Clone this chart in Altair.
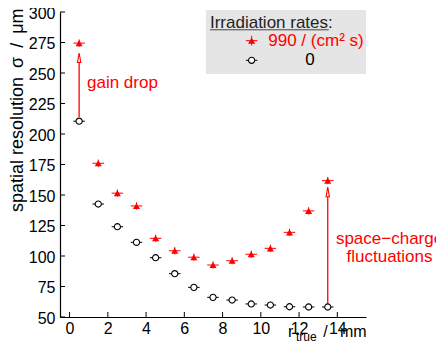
import altair as alt
import pandas as pd

# ---- data ----
r_true = [0.5, 1.5, 2.5, 3.5, 4.5, 5.5, 6.5, 7.5, 8.5, 9.5, 10.5, 11.5, 12.5, 13.5]
sigma_irr = [274.5, 176, 151.5, 141, 114.5, 104.3, 99, 92.6, 96.1, 101.4, 106.3, 119.4, 137, 161.8]
sigma_0 = [210.5, 142.6, 124, 111.2, 98.6, 85.5, 74.3, 66.1, 63.9, 60.7, 59.8, 58.4, 58.2, 58.2]
x_err = 0.3
y_err_irr = 3.0

x_ticks = [0, 2, 4, 6, 8, 10, 12, 14]
y_ticks = [50, 75, 100, 125, 150, 175, 200, 225, 250, 275, 300]
x_domain = [-0.5, 15.5]
y_domain = [50, 300]

legend_title = "Irradiation rates:"
legend_labels = ["990 / (cm² s)", "0"]
y_title = "spatial resolution\u2002σ\u2002/\u2002μm"

RED = "#ff0000"
FONT = "Liberation Sans"

df = pd.DataFrame({"x": r_true, "irr": sigma_irr, "zero": sigma_0})
df["xl"] = df["x"] - x_err
df["xr"] = df["x"] + x_err
df["irr_lo"] = df["irr"] - y_err_irr
df["irr_hi"] = df["irr"] + y_err_irr

xscale = alt.Scale(domain=x_domain, nice=False, zero=False)
yscale = alt.Scale(domain=y_domain, nice=False, zero=False)
xaxis = alt.Axis(values=x_ticks, ticks=False, grid=False, title=None,
                 labelFont=FONT, labelFontSize=16, labelColor="black",
                 labelPadding=3, domainColor="black", labelFlush=False)
yaxis = alt.Axis(values=y_ticks, ticks=False, grid=False, title=y_title,
                 labelFont=FONT, labelFontSize=16, labelColor="black",
                 labelPadding=5, labelOffset=1, domainColor="black", labelFlush=False,
                 titleFont=FONT, titleFontSize=18, titleFontWeight="normal",
                 titleColor="black", titleAngle=270, titleAlign="right",
                 titleBaseline="middle", titleX=-43, titleY=-4)


def X(f):
    return alt.X(f, type="quantitative", scale=xscale, axis=xaxis)


def Y(f):
    return alt.Y(f, type="quantitative", scale=yscale, axis=yaxis)


layers = []

# legend box
box = pd.DataFrame({"x": [7.13], "x2": [15.5], "y": [301.6], "y2": [249.2]})
layers.append(alt.Chart(box).mark_rect(color="#e5e5e5").encode(
    x=X("x"), x2="x2", y=Y("y"), y2="y2"))

# inward ticks
ytk = pd.DataFrame({"t": y_ticks})
xtk = pd.DataFrame({"t": x_ticks})
layers.append(alt.Chart(ytk).mark_rule(color="black", strokeWidth=1).encode(
    y=Y("t"), x=alt.value(0), x2=alt.value(5)))
layers.append(alt.Chart(xtk).mark_rule(color="black", strokeWidth=1).encode(
    x=X("t"), y=alt.value(305), y2=alt.value(300)))

# arrows
arr = pd.DataFrame({"x": [0.5, 13.5], "y0": [214, 61], "y1": [259, 149],
                    "yh": [262.5, 152.5]})
layers.append(alt.Chart(arr).mark_rule(color=RED, strokeWidth=1.3).encode(
    x=X("x"), y=Y("y0"), y2="y1"))
layers.append(alt.Chart(arr).mark_point(
    shape="M0,-1L0.35,1L-0.35,1Z", filled=True, fill="white", stroke=RED,
    strokeWidth=1.1, size=90, opacity=1).encode(x=X("x"), y=Y("yh")))

# zero-rate series
layers.append(alt.Chart(df).mark_rule(color="black", strokeWidth=1).encode(
    x=X("xl"), x2="xr", y=Y("zero")))
layers.append(alt.Chart(df).mark_point(
    shape="circle", filled=True, fill="white", stroke="black", strokeWidth=1.1,
    size=38, opacity=1).encode(x=X("x"), y=Y("zero")))

# irradiated series
layers.append(alt.Chart(df).mark_rule(color=RED, strokeWidth=1).encode(
    x=X("xl"), x2="xr", y=Y("irr")))
layers.append(alt.Chart(df).mark_rule(color=RED, strokeWidth=1).encode(
    x=X("x"), y=Y("irr_lo"), y2="irr_hi"))
layers.append(alt.Chart(df).mark_point(
    shape="triangle-up", filled=True, color=RED, size=50, opacity=1).encode(
    x=X("x"), y=Y("irr")))

# legend markers
lg = pd.DataFrame({"x": [9.52], "y_irr": [276.5], "y_zero": [260.4]})
lg["xl"] = lg["x"] - x_err
lg["xr"] = lg["x"] + x_err
lg["lo"] = lg["y_irr"] - 4.0
lg["hi"] = lg["y_irr"] + 4.0
layers.append(alt.Chart(lg).mark_rule(color=RED, strokeWidth=1).encode(
    x=X("xl"), x2="xr", y=Y("y_irr")))
layers.append(alt.Chart(lg).mark_rule(color=RED, strokeWidth=1).encode(
    x=X("x"), y=Y("lo"), y2="hi"))
layers.append(alt.Chart(lg).mark_point(
    shape="triangle-up", filled=True, color=RED, size=50, opacity=1).encode(
    x=X("x"), y=Y("y_irr")))
layers.append(alt.Chart(lg).mark_rule(color="black", strokeWidth=1).encode(
    x=X("xl"), x2="xr", y=Y("y_zero")))
layers.append(alt.Chart(lg).mark_point(
    shape="circle", filled=True, fill="white", stroke="black", strokeWidth=1.1,
    size=38, opacity=1).encode(x=X("x"), y=Y("y_zero")))

# legend texts
lt = pd.DataFrame({"x": [7.34], "y": [287.2], "t": [legend_title]})
layers.append(alt.Chart(lt).mark_text(
    align="left", baseline="alphabetic", font=FONT, fontSize=17, color="#222222").encode(
    x=X("x"), y=Y("y"), text="t:N"))
ul = pd.DataFrame({"x": [7.34], "x2": [13.55], "y": [285.4]})
layers.append(alt.Chart(ul).mark_rule(color="#444444", strokeWidth=1).encode(
    x=X("x"), x2="x2", y=Y("y")))
l1 = pd.DataFrame({"x": [10.39], "y": [276.5], "t": [legend_labels[0]]})
layers.append(alt.Chart(l1).mark_text(
    align="left", baseline="middle", font=FONT, fontSize=17, color=RED).encode(
    x=X("x"), y=Y("y"), text="t:N"))
l2 = pd.DataFrame({"x": [12.57], "y": [260.4], "t": [legend_labels[1]]})
layers.append(alt.Chart(l2).mark_text(
    align="center", baseline="middle", font=FONT, fontSize=17, color="black").encode(
    x=X("x"), y=Y("y"), text="t:N"))

# annotations
ga = pd.DataFrame({"x": [0.91], "y": [237.5], "t": ["gain drop"]})
layers.append(alt.Chart(ga).mark_text(
    align="left", baseline="alphabetic", font=FONT, fontSize=17, color=RED).encode(
    x=X("x"), y=Y("y"), text="t:N"))
sc = pd.DataFrame({"x": [16.73, 16.73], "y": [109.8, 94.8],
                   "t": ["space−charge", "fluctuations"]})
layers.append(alt.Chart(sc).mark_text(
    align="center", baseline="alphabetic", font=FONT, fontSize=17, color=RED).encode(
    x=X("x"), y=Y("y"), text="t:N"))

# x axis title r_true / mm
rr = pd.DataFrame({"x": [11.42], "y": [33.2], "t": ["r"]})
layers.append(alt.Chart(rr).mark_text(
    align="left", baseline="alphabetic", font=FONT, fontSize=16, color="black").encode(
    x=X("x"), y=Y("y"), text="t:N"))
sl = pd.DataFrame({"x": [13.38], "y": [33.2], "t": ["/"]})
layers.append(alt.Chart(sl).mark_text(
    align="center", baseline="alphabetic", font=FONT, fontSize=16, color="black").encode(
    x=X("x"), y=Y("y"), text="t:N"))
sub = pd.DataFrame({"x": [11.84], "y": [30.3], "t": ["true"]})
layers.append(alt.Chart(sub).mark_text(
    align="left", baseline="alphabetic", font=FONT, fontSize=12, color="black").encode(
    x=X("x"), y=Y("y"), text="t:N"))
mm = pd.DataFrame({"x": [14.14], "y": [33.2], "t": ["mm"]})
layers.append(alt.Chart(mm).mark_text(
    align="left", baseline="alphabetic", font=FONT, fontSize=16, color="black").encode(
    x=X("x"), y=Y("y"), text="t:N"))

chart = alt.layer(*layers).properties(
    width=306, height=305,
    autosize=alt.AutoSizeParams(type="none"),
    padding={"left": 52, "top": 4, "right": 70, "bottom": 28},
).configure_view(stroke=None).configure_axis(domainWidth=1.2)

chart.save("out.html", embed_options={"renderer": "svg", "actions": False})
